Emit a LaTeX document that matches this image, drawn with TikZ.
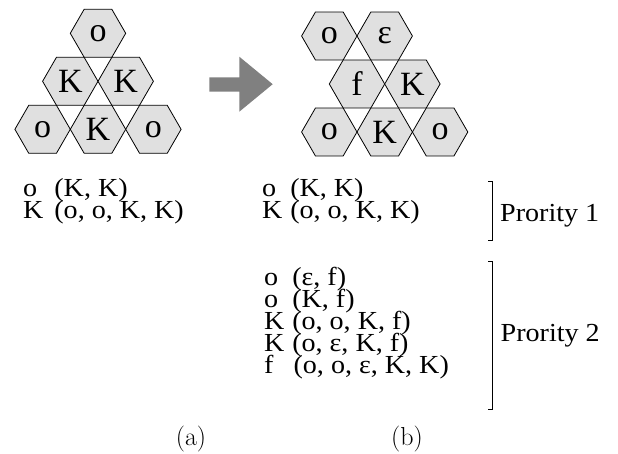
\documentclass[tikz,border=0pt]{standalone}
\usepackage{fontspec}
\newfontfamily\tnr{Liberation Serif}
\newfontfamily\tnrw[FakeStretch=1.08]{Liberation Serif}
\usetikzlibrary{shapes.geometric}
\definecolor{hexgrey}{RGB}{224,224,224}
\definecolor{arrowgrey}{RGB}{128,128,128}
\begin{document}
\begin{tikzpicture}[x=1pt,y=-1pt,
  hexa/.style={regular polygon, regular polygon sides=6, minimum size=55.4pt,
    inner sep=0pt, draw=black, line width=0.8pt, fill=hexgrey,
    font=\tnr\fontsize{34}{34}\selectfont},
  listtxt/.style={anchor=base west, inner sep=0pt, font=\tnrw\fontsize{26}{26}\selectfont},
  capt/.style={anchor=base, inner sep=0pt, font=\fontsize{26}{26}\selectfont},
  brk/.style={line width=0.9pt}]
\useasboundingbox (0,0) rectangle (618,454);
% panel (a)
\node[hexa] (a1) at (98,33.3) {o};
\node[hexa] (a2) at (70.3,81.3) {K};
\node[hexa] (a3) at (125.7,81.3) {K};
\node[hexa] (a4) at (42.6,129.3) {o};
\node[hexa] (a5) at (98,129.3) {K};
\node[hexa] (a6) at (153.4,129.3) {o};
% arrow
\fill[arrowgrey] (209.3,77.3) -- (239.3,77.3) -- (239.3,56.7) -- (272.7,84.2)
  -- (239.3,111.7) -- (239.3,91.7) -- (209.3,91.7) -- cycle;
% panel (b)
\node[hexa] (b1) at (329.3,36) {o};
\node[hexa] (b2) at (384.7,36) {ε};
\node[hexa] (b3) at (357,84) {f};
\node[hexa] (b4) at (412.4,84) {K};
\node[hexa] (b5) at (329.3,132) {o};
\node[hexa] (b6) at (384.7,132) {K};
\node[hexa] (b7) at (440.1,132) {o};
% lists (a)
\node[listtxt] (la1) at (23,197) {\makebox[1.2em][l]{o}(K, K)};
\node[listtxt] (la2) at (23,219) {\makebox[1.2em][l]{K}(o, o, K, K)};
% lists (b)
\node[listtxt] (lb1) at (262,197) {\makebox[1.08em][l]{o}(K, K)};
\node[listtxt] (lb2) at (262,219) {\makebox[1.08em][l]{K}(o, o, K, K)};
\node[listtxt] (lc1) at (264,285) {\makebox[1.08em][l]{o}(ε, f)};
\node[listtxt] (lc2) at (264,307) {\makebox[1.08em][l]{o}(K, f)};
\node[listtxt] (lc3) at (264,329) {\makebox[1.08em][l]{K}(o, o, K, f)};
\node[listtxt] (lc4) at (264,351) {\makebox[1.08em][l]{K}(o, ε, K, f)};
\node[listtxt] (lc5) at (264,373) {\makebox[1.13em][l]{f}(o, o, ε, K, K)};
% brackets
\draw[brk] (488,181.7) -- (492.7,181.7) -- (492.7,240.7) -- (488,240.7);
\draw[brk] (488,261.7) -- (492.7,261.7) -- (492.7,409) -- (488,409);
\node[listtxt] (p1) at (500,222) {Prority 1};
\node[listtxt] (p2) at (500.5,341) {Prority 2};
% captions
\node[capt] (capa) at (191,445) {(a)};
\node[capt] (capb) at (407,445) {(b)};
\end{tikzpicture}
\end{document}
